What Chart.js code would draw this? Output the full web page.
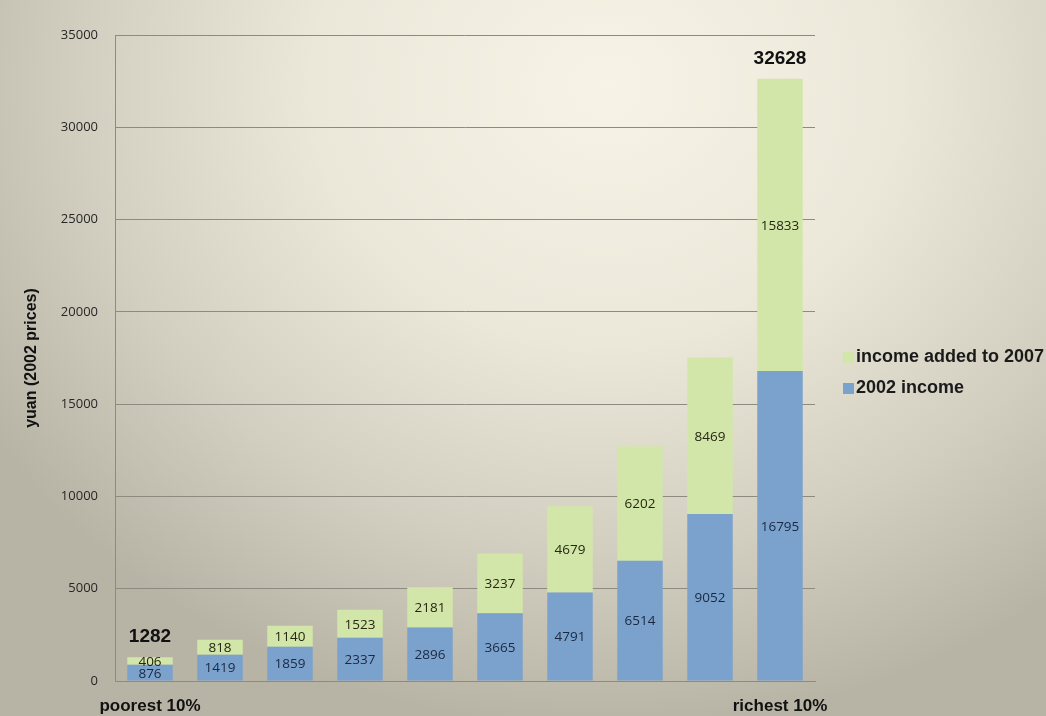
<!DOCTYPE html>
<html>
<head>
<meta charset="utf-8">
<script src="https://cdn.jsdelivr.net/npm/chart.js@4"></script>
<style>
  html, body { margin: 0; padding: 0; }
  body {
    width: 1046px; height: 716px; overflow: hidden;
    background: radial-gradient(ellipse 70% 90% at 58% 12%, #f7f4e7 0%, #ebe8da 40%, #d2cfc0 72%, #b8b4a5 100%);
  }
  canvas { display: block; }
</style>
</head>
<body>
<canvas id="chart" width="1046" height="716"></canvas>
<script>
// Decile groups (only the two end ones carry a label)
const deciles = ['poorest 10%', '', '', '', '', '', '', '', '', 'richest 10%'];

// 2002 income per decile
const income2002 = [876, 1419, 1859, 2337, 2896, 3665, 4791, 6514, 9052, 16795];
// income added up to 2007
const incomeAdded = [406, 818, 1140, 1523, 2181, 3237, 4679, 6202, 8469, 15833];

// bars whose total is printed above them
const totalLabelIdx = [0, 9];

const yTicks = [0, 5000, 10000, 15000, 20000, 25000, 30000, 35000];

const BLUE = '#7ba2cd';
const GREEN = '#d3e6a9';

// napise hodnoty do segmentu a soucty nad sloupce
const valueLabels = {
    id: 'valueLabels',
    afterDatasetsDraw(chart) {
        const ctx = chart.ctx;
        ctx.save();
        ctx.textAlign = 'center';
        ctx.textBaseline = 'middle';
        ctx.font = '13.5px "Open Sans"';
        chart.data.datasets.forEach((ds, di) => {
            const meta = chart.getDatasetMeta(di);
            ctx.fillStyle = di === 0 ? '#1a2840' : '#262712';
            meta.data.forEach((bar, i) => {
                const p = bar.getProps(['x', 'y', 'base'], true);
                ctx.fillText(String(ds.data[i]), p.x, (p.y + p.base) / 2 + 1);
            });
        });
        // soucty
        const top = chart.getDatasetMeta(1);
        ctx.font = 'bold 19px "Liberation Sans"';
        ctx.fillStyle = '#111';
        ctx.textBaseline = 'bottom';
        totalLabelIdx.forEach(i => {
            const p = top.data[i].getProps(['x', 'y'], true);
            const total = income2002[i] + incomeAdded[i];
            ctx.fillText(String(total), p.x, p.y - 11);
        });
        ctx.restore();
    }
};

// legenda vpravo, zelena nahore
const sideLegend = {
    id: 'sideLegend',
    afterDraw(chart) {
        const ctx = chart.ctx;
        ctx.save();
        ctx.font = 'bold 18px "Liberation Sans"';
        ctx.textBaseline = 'middle';
        ctx.textAlign = 'left';
        const items = [1, 0];
        items.forEach((di, k) => {
            const ds = chart.data.datasets[di];
            const y = 357 + k * 31;
            ctx.fillStyle = ds.backgroundColor;
            ctx.fillRect(843, y - 5, 11, 11);
            ctx.fillStyle = '#1a1a1a';
            ctx.fillText(ds.label, 856, y);
        });
        ctx.restore();
    }
};

const ctx = document.getElementById('chart').getContext('2d');
const chart = new Chart(ctx, {
    type: 'bar',
    data: {
        labels: deciles,
        datasets: [
            { label: '2002 income', data: income2002, backgroundColor: BLUE, barPercentage: 0.65, categoryPercentage: 1 },
            { label: 'income added to 2007', data: incomeAdded, backgroundColor: GREEN, barPercentage: 0.65, categoryPercentage: 1 }
        ]
    },
    options: {
        responsive: false,
        animation: false,
        devicePixelRatio: 1,
        layout: { padding: { left: 22, top: 35, right: 231, bottom: 0 } },
        plugins: {
            legend: { display: false },
            tooltip: { enabled: false }
        },
        scales: {
            x: {
                stacked: true,
                grid: { display: false, drawTicks: false },
                border: { display: true, color: '#8d8b80', width: 1 },
                ticks: {
                    padding: 15,
                    autoSkip: false,
                    maxRotation: 0,
                    color: '#111',
                    font: { family: 'Liberation Sans', size: 17, weight: 'bold' }
                },
                afterFit(scale) { scale.height = 35; }
            },
            y: {
                stacked: true,
                min: 0,
                max: 35000,
                afterBuildTicks(scale) { scale.ticks = yTicks.map(v => ({ value: v })); },
                grid: { color: '#8d8b80', lineWidth: 1, drawTicks: false },
                border: { display: true, color: '#8d8b80', width: 1 },
                ticks: {
                    padding: 17,
                    color: '#262626',
                    font: { family: 'Open Sans', size: 13 },
                    callback: v => String(v)
                },
                title: {
                    display: true,
                    text: 'yuan (2002 prices)',
                    color: '#111',
                    font: { family: 'Liberation Sans', size: 16, weight: 'bold' },
                    padding: { top: 0, bottom: 0 }
                },
                afterFit(scale) { scale.width = 93; }
            }
        }
    },
    plugins: [valueLabels, sideLegend]
});
</script>
</body>
</html>
